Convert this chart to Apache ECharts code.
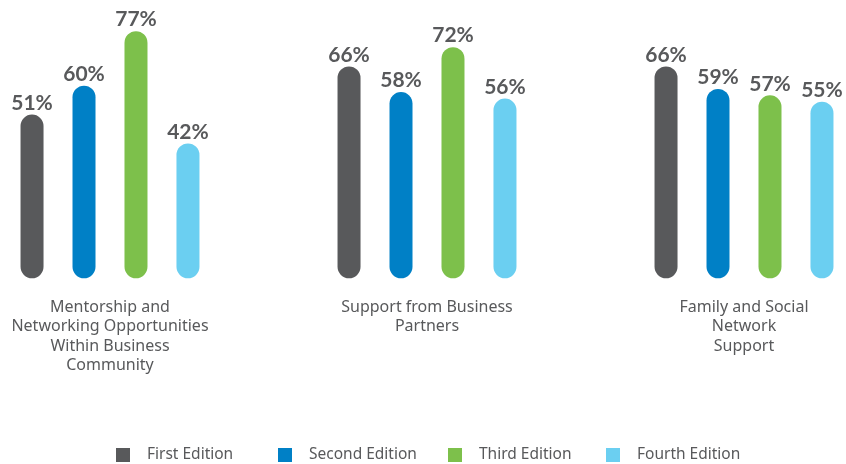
<!DOCTYPE html>
<html>
<head>
<meta charset="utf-8">
<script src="https://cdn.jsdelivr.net/npm/echarts@6/dist/echarts.min.js"></script>
<style>
  html, body { margin: 0; padding: 0; background: #ffffff; }
  #chart { width: 846px; height: 464px; }
</style>
</head>
<body>
<div id="chart"></div>
<script>
// Support sources, compared across four survey editions (percent of respondents)
const categories = [
  'Mentorship and\nNetworking Opportunities\nWithin Business\nCommunity',
  'Support from Business\nPartners',
  'Family and Social\nNetwork\nSupport'
];
const editions = ['First Edition', 'Second Edition', 'Third Edition', 'Fourth Edition'];
const firstEdition = [51, 66, 66];
const secondEdition = [60, 58, 59];
const thirdEdition = [77, 72, 57];
const fourthEdition = [42, 56, 55];

const seriesValues = [firstEdition, secondEdition, thirdEdition, fourthEdition];
const colors = ['#58595b', '#0080c6', '#7dc04b', '#6bcff1'];
const textColor = '#58595b';
const legendLefts = [116, 278, 448, 606];

const chart = echarts.init(document.getElementById('chart'), null, { renderer: 'canvas' });

const series = editions.map((name, i) => ({
  name: name,
  type: 'bar',
  data: seriesValues[i],
  barWidth: 23,
  barGap: '126%',
  itemStyle: { color: colors[i], borderRadius: 12 },
  label: {
    show: true,
    position: 'top',
    distance: 1,
    formatter: '{c}%',
    color: textColor,
    fontFamily: 'Lato',
    fontWeight: 'bold',
    fontSize: 21
  }
}));

const legends = editions.map((name, i) => ({
  data: [name],
  left: legendLefts[i],
  top: 447,
  padding: 0,
  itemWidth: 14,
  itemHeight: 14,
  icon: 'rect',
  selectedMode: false,
  textStyle: {
    color: textColor,
    fontFamily: 'Noto Sans',
    fontSize: 15.5,
    padding: [0, 0, 0, 12]
  }
}));

chart.setOption({
  animation: false,
  color: colors,
  grid: {
    left: -48.5,
    right: -56.5,
    top: 21.5,
    bottom: 185.7,
    containLabel: false,
    outerBoundsMode: 'none'
  },
  legend: legends,
  xAxis: {
    type: 'category',
    data: categories,
    axisLine: { show: false },
    axisTick: { show: false },
    axisLabel: {
      interval: 0,
      margin: 19,
      color: textColor,
      fontFamily: 'Noto Sans',
      fontSize: 16,
      lineHeight: 19.5
    }
  },
  yAxis: {
    type: 'value',
    min: 0,
    max: 80,
    show: false,
    splitLine: { show: false }
  },
  series: series
});
</script>
</body>
</html>
